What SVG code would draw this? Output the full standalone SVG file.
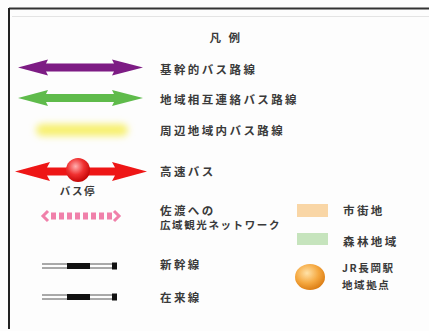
<svg xmlns="http://www.w3.org/2000/svg" width="429" height="331" viewBox="0 0 429 331">
<defs>
<style>
.t{font-family:"Noto Sans CJK JP","Noto Sans",sans-serif;font-size:11.5px;font-weight:bold;fill:#3a3a3a;letter-spacing:2.4px}
.ts{font-family:"Noto Sans CJK JP","Noto Sans",sans-serif;font-size:10.5px;font-weight:bold;fill:#3a3a3a;letter-spacing:1.6px}
.rail{fill:none;stroke:#555;stroke-width:1}
</style>
<filter id="blur" x="-20%" y="-80%" width="140%" height="260%"><feGaussianBlur stdDeviation="3.5"/></filter>
<filter id="soft"><feGaussianBlur stdDeviation="0.6"/></filter>
<radialGradient id="redball" cx="0.4" cy="0.35" r="0.7"><stop offset="0" stop-color="#ffb0b0"/><stop offset="0.5" stop-color="#f03030"/><stop offset="1" stop-color="#c00000"/></radialGradient>
<radialGradient id="orball" cx="0.4" cy="0.35" r="0.7"><stop offset="0" stop-color="#ffe2a8"/><stop offset="0.55" stop-color="#f5a840"/><stop offset="1" stop-color="#d87810"/></radialGradient>
</defs>
<rect width="429" height="331" fill="#fdfdfd"/>
<g id="frame">
<line x1="9" y1="8.5" x2="429" y2="8.5" stroke="#333" stroke-width="2"/>
<line x1="9" y1="8" x2="9" y2="329" stroke="#222" stroke-width="2"/>
<line x1="12" y1="16.5" x2="429" y2="16.5" stroke="#e4e4e4" stroke-width="1"/>
</g>
<g id="title"><text x="226" y="42" class="t" text-anchor="middle" letter-spacing="8">凡 例</text></g>
<g id="connectors">
<g id="trunk-bus">
<path d="M18,67.5 L48,59.5 L46,63.5 L114,63.5 L112,59.5 L143,67.5 L112,75.5 L114,71.5 L46,71.5 L48,75.5 Z" fill="#7d1c84" filter="url(#soft)"/>
</g>
<g id="regional-bus">
<path d="M18,98 L48,90 L46,94 L114,94 L112,90 L143,98 L112,106 L114,102 L46,102 L48,106 Z" fill="#5ebb4c" filter="url(#soft)"/>
</g>
<g id="local-bus">
<rect x="36" y="124" width="92" height="12" rx="6" fill="#f7f070" filter="url(#blur)"/>
</g>
<g id="express-bus">
<path d="M15,171.5 L50,162 L47,167.5 L115,167.5 L112,162 L147,171.5 L112,181 L115,175.5 L47,175.5 L50,181 Z" fill="#ee1515" filter="url(#soft)"/>
<circle cx="78" cy="170" r="12" fill="url(#redball)"/>
</g>
<g id="sado-network" filter="url(#soft)">
<line x1="51" y1="216" x2="112" y2="216" stroke="#f080aa" stroke-width="7" stroke-dasharray="5,3"/>
<path d="M48,211 L43,216 L48,221" fill="none" stroke="#f080aa" stroke-width="3"/>
<path d="M114,211 L119,216 L114,221" fill="none" stroke="#f080aa" stroke-width="3"/>
</g>
<g id="shinkansen">
<line x1="42" y1="264" x2="113" y2="264" class="rail"/>
<line x1="42" y1="268" x2="113" y2="268" class="rail"/>
<rect x="67" y="263" width="23" height="6" fill="#111"/>
<rect x="112" y="262.5" width="5" height="7" fill="#111"/>
</g>
<g id="zairaisen">
<line x1="42" y1="295" x2="113" y2="295" class="rail"/>
<line x1="42" y1="299" x2="113" y2="299" class="rail"/>
<rect x="67" y="294" width="23" height="6" fill="#111"/>
<rect x="112" y="293.5" width="5" height="7" fill="#111"/>
</g>
</g>
<g id="label-trunk"><text x="160" y="74" class="t">基幹的バス路線</text></g>
<g id="label-regional"><text x="160" y="104" class="t">地域相互連絡バス路線</text></g>
<g id="label-local"><text x="160" y="135" class="t">周辺地域内バス路線</text></g>
<g id="label-express"><text x="160" y="176" class="t">高速バス</text>
<text x="78" y="195" class="ts" text-anchor="middle" font-size="9" letter-spacing="2" fill="#5a4a5a">バス停</text></g>
<g id="label-sado"><text x="160" y="215" class="t">佐渡への</text><text x="160" y="229" class="ts">広域観光ネットワーク</text></g>
<g id="label-shinkansen"><text x="160" y="269" class="t">新幹線</text></g>
<g id="label-zairaisen"><text x="160" y="302" class="t">在来線</text></g>
<g id="urban-area"><rect x="297" y="204" width="31" height="13" fill="#f9d6a6"/><text x="343" y="215" class="t">市街地</text></g>
<g id="forest-area"><rect x="297" y="233" width="31" height="12" fill="#c6e4bd"/><text x="343" y="246" class="t">森林地域</text></g>
<g id="hub"><ellipse cx="310" cy="277" rx="15" ry="13" fill="url(#orball)" filter="url(#soft)"/>
<text x="342" y="272" class="ts">JR長岡駅</text><text x="342" y="289" class="ts">地域拠点</text></g>
</svg>
